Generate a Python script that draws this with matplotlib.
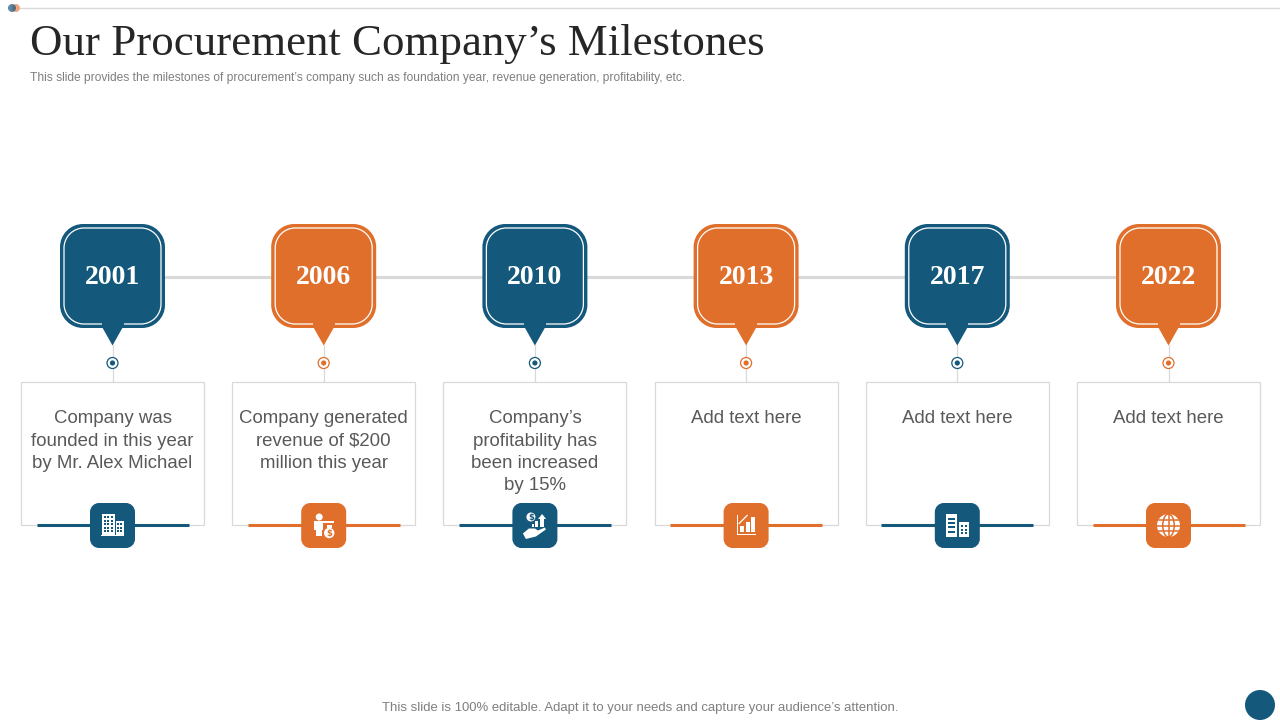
import matplotlib
matplotlib.use("Agg")
import matplotlib.pyplot as plt
from matplotlib.patches import Circle, Ellipse, PathPatch, Polygon, Rectangle
from matplotlib.path import Path

BLUE = "#14587c"
ORANGE = "#e06f2c"
GREY = "#d9d9d9"

TITLE = "Our Procurement Company\u2019s Milestones"
SUBTITLE = "This slide provides the milestones of procurement\u2019s company such as foundation year, revenue generation, profitability, etc."
FOOTER = "This slide is 100% editable. Adapt it to your needs and capture your audience\u2019s attention."

years = ["2001", "2006", "2010", "2013", "2017", "2022"]
captions = [
    "Company was\nfounded in this year\nby Mr. Alex Michael",
    "Company generated\nrevenue of $200\nmillion this year",
    "Company\u2019s\nprofitability has\nbeen increased\nby 15%",
    "Add text here",
    "Add text here",
    "Add text here",
]
icons = ["office", "person", "hand", "chart", "towers", "globe"]

fig = plt.figure(figsize=(12.8, 7.2), dpi=100)
ax = fig.add_axes([0, 0, 1, 1])
ax.set_xlim(0, 1280)
ax.set_ylim(720, 0)
ax.axis("off")


def rounded(x0, y0, x1, y1, r, **kw):
    # true circular corners, the FancyBboxPatch ones came out too tight
    k = 0.448 * r
    verts = [(x0 + r, y0), (x1 - r, y0),
             (x1 - k, y0), (x1, y0 + k), (x1, y0 + r), (x1, y1 - r),
             (x1, y1 - k), (x1 - k, y1), (x1 - r, y1), (x0 + r, y1),
             (x0 + k, y1), (x0, y1 - k), (x0, y1 - r), (x0, y0 + r),
             (x0, y0 + k), (x0 + k, y0), (x0 + r, y0), (x0 + r, y0)]
    codes = [Path.MOVETO, Path.LINETO,
             Path.CURVE4, Path.CURVE4, Path.CURVE4, Path.LINETO,
             Path.CURVE4, Path.CURVE4, Path.CURVE4, Path.LINETO,
             Path.CURVE4, Path.CURVE4, Path.CURVE4, Path.LINETO,
             Path.CURVE4, Path.CURVE4, Path.CURVE4, Path.CLOSEPOLY]
    ax.add_patch(PathPatch(Path(verts, codes), **kw))


def rect(x, y, w, h, color="white", z=6):
    ax.add_patch(Rectangle((x, y), w, h, fc=color, ec="none", zorder=z))


def icon_office(cx, cy, bg):
    rect(cx - 10.5, cy - 11.5, 13, 21.5)
    rect(cx + 3, cy - 4.5, 8.5, 14.5)
    rect(cx - 11.5, cy + 9, 23, 1.5)
    for i in range(3):
        for j in range(5):
            rect(cx - 8.8 + i * 3.6, cy - 9.5 + j * 3.6, 2, 2, bg, 7)
    for i in range(2):
        for j in range(3):
            rect(cx + 4.5 + i * 3, cy - 2.5 + j * 3.6, 1.8, 2, bg, 7)


def icon_person(cx, cy, bg):
    ax.add_patch(Circle((cx - 4.5, cy - 8.5), 3.5, fc="white", ec="none", zorder=6))
    rect(cx - 9.5, cy - 4.5, 9, 9)
    rect(cx - 7.5, cy + 4, 6, 6.5)
    rect(cx - 1, cy - 4.5, 11, 2)
    ax.add_patch(Circle((cx + 5.5, cy + 7.5), 5.2, fc="white", ec="none", zorder=6))
    rect(cx + 3.5, cy - 0.5, 4.5, 3)
    ax.text(cx + 5.5, cy + 7.7, "$", color=bg, fontsize=6, fontweight="bold",
            ha="center", va="center", zorder=7, parse_math=False)


def icon_hand(cx, cy, bg):
    ax.add_patch(Circle((cx - 4, cy - 8.5), 4.5, fc="white", ec="none", zorder=6))
    ax.text(cx - 4, cy - 8.3, "$", color=bg, fontsize=6, fontweight="bold",
            ha="center", va="center", zorder=7, parse_math=False)
    rect(cx - 3, cy - 2, 2.5, 3)
    rect(cx + 0.5, cy - 5, 2.5, 6)
    rect(cx + 5.5, cy - 7, 3.5, 8)
    ax.add_patch(Polygon([(cx + 3.2, cy - 6.5), (cx + 7.2, cy - 11.5), (cx + 11.2, cy - 6.5)],
                         fc="white", ec="none", zorder=6))
    ax.add_patch(Polygon([(cx - 12, cy + 8), (cx - 6, cy + 3), (cx, cy + 3), (cx + 3, cy + 5),
                          (cx + 10, cy + 2), (cx + 11, cy + 4), (cx + 1, cy + 11), (cx - 9, cy + 13.5)],
                         fc="white", ec="none", zorder=6))


def icon_chart(cx, cy, bg):
    rect(cx - 9, cy - 10.5, 1, 20)
    rect(cx - 9, cy + 8.5, 18.5, 1.2)
    rect(cx - 6, cy + 0, 4, 6.5)
    rect(cx - 0.5, cy - 4, 4, 10.5)
    rect(cx + 4.5, cy - 8.5, 4.5, 15)
    ax.plot([cx - 7, cx + 1], [cy - 2, cy - 10], color="white", lw=0.9, zorder=6)


def icon_towers(cx, cy, bg):
    rect(cx - 11.5, cy - 11.5, 11, 23)
    rect(cx + 1.5, cy - 3.5, 10, 15)
    for j in range(4):
        rect(cx - 9.5, cy - 8 + j * 4.4, 7, 2, bg, 7)
    for i in range(2):
        for j in range(3):
            rect(cx + 3.5 + i * 4, cy - 0.5 + j * 3.5, 2.2, 2, bg, 7)


def icon_globe(cx, cy, bg):
    r = 11.5
    ax.add_patch(Circle((cx, cy), r, fc="white", ec="none", zorder=6))
    ax.add_patch(Ellipse((cx, cy), r, 2 * r, fc="none", ec=bg, lw=1.1, zorder=7))
    ax.plot([cx, cx], [cy - r, cy + r], color=bg, lw=1.1, zorder=7)
    ax.plot([cx - r, cx + r], [cy, cy], color=bg, lw=1.1, zorder=7)
    ax.plot([cx - r + 1.5, cx + r - 1.5], [cy - 5.5, cy - 5.5], color=bg, lw=1.1, zorder=7)
    ax.plot([cx - r + 1.5, cx + r - 1.5], [cy + 5.5, cy + 5.5], color=bg, lw=1.1, zorder=7)


ICON_FUNCS = {"office": icon_office, "person": icon_person, "hand": icon_hand,
              "chart": icon_chart, "towers": icon_towers, "globe": icon_globe}

# header
ax.plot([20, 1280], [8, 8], color=GREY, lw=1, zorder=1)
ax.add_patch(Circle((16, 8), 4, fc=ORANGE, ec="none", alpha=0.6, zorder=2))
ax.add_patch(Circle((12, 8), 4, fc=BLUE, ec="none", alpha=0.7, zorder=3))
ax.text(30, 54.5, TITLE, fontsize=32.3, family="Liberation Serif", color="#262626",
        va="baseline", ha="left")
ax.text(30, 81.5, SUBTITLE, fontsize=8.66, family="Liberation Sans", color="#7f7f7f",
        va="baseline", ha="left")

# timeline
ax.plot([112, 1168], [277, 277], color=GREY, lw=2.2, zorder=1, solid_capstyle="butt")

for i, year in enumerate(years):
    cx = 112.5 + i * 211.2
    col = BLUE if i % 2 == 0 else ORANGE

    # connector, dot
    ax.plot([cx, cx], [345, 382], color=GREY, lw=0.9, zorder=1)
    ax.add_patch(Circle((cx, 363), 5.5, fc="white", ec=col, lw=0.9, zorder=3))
    ax.add_patch(Circle((cx, 363), 2.6, fc=col, ec="none", zorder=4))

    # bubble
    rounded(cx - 52.5, 224, cx + 52.5, 328, 23, fc=col, ec="none", zorder=3)
    ax.add_patch(Polygon([(cx - 11, 326), (cx + 11, 326), (cx, 345.5)], fc=col, ec="none", zorder=4))
    rounded(cx - 48.5, 228, cx + 48.5, 324, 20, fc="none", ec="white", lw=0.9, zorder=4)
    ax.add_patch(Rectangle((cx - 11, 322), 22, 4, fc=col, ec="none", zorder=5))
    ax.text(cx, 284.5, year, fontsize=20, family="Liberation Serif", fontweight="bold",
            color="white", ha="center", va="baseline", zorder=6)

    # text box
    ax.add_patch(Rectangle((cx - 91.5, 382), 183, 143, fc="white", ec=GREY, lw=0.9, zorder=2))
    lines = captions[i].split("\n")
    for j, line in enumerate(lines):
        ax.text(cx, 423.2 + j * 22.4, line, fontsize=13.4, family="Liberation Sans", color="#595959",
                ha="center", va="baseline", zorder=3, parse_math=False)

    # bottom bar and icon tile
    ax.plot([cx - 76, cx + 76], [525, 525], color=col, lw=2.2, zorder=4, solid_capstyle="butt")
    rounded(cx - 22.5, 503, cx + 22.5, 548, 9, fc=col, ec="none", zorder=5)
    ICON_FUNCS[icons[i]](cx, 525.5, col)

# footer
ax.text(640, 710.5, FOOTER, fontsize=9.45, family="Liberation Sans", color="#7f7f7f",
        ha="center", va="baseline", parse_math=False)
ax.add_patch(Circle((1260, 705), 15, fc=BLUE, ec="none", zorder=3))

fig.savefig("out.png", dpi=100)
